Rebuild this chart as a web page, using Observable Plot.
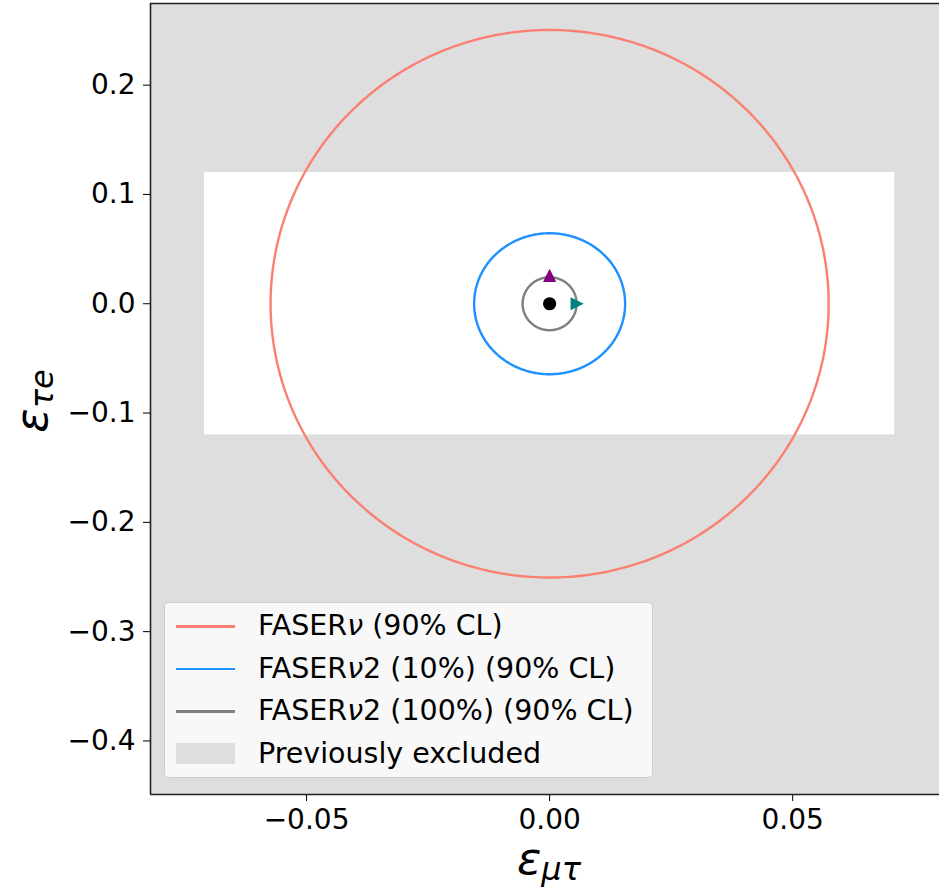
<!DOCTYPE html>
<html>
<head>
<meta charset="utf-8">
<script src="https://cdn.jsdelivr.net/npm/d3@7"></script>
<script src="https://cdn.jsdelivr.net/npm/@observablehq/plot@0.6"></script>
<style>
  html, body { margin: 0; padding: 0; background: white; }
  #wrap { position: relative; width: 939px; height: 888px; overflow: hidden; }
  #legend {
    position: absolute; left: 164px; top: 602px; width: 489px; height: 176px;
    background: #f8f8f8; border: 1px solid #cfcfcf; border-radius: 5px;
    font-family: "DejaVu Sans", sans-serif; font-size: 28.5px; color: #000;
    box-sizing: border-box;
  }
  .row { position: absolute; left: 0; height: 40px; }
  .sw { position: absolute; left: 11px; width: 59px; }
  .lbl { position: absolute; left: 93px; white-space: nowrap; line-height: 40px; }
  .lbl i { font-style: italic; }
</style>
</head>
<body>
<div id="wrap"></div>
<script>
// ---- data ----
const xDomain = [-0.0821, 0.0802];
const yDomain = [-0.449, 0.2747];
const xTicks = [-0.05, 0.0, 0.05];
const yTicks = [-0.4, -0.3, -0.2, -0.1, 0.0, 0.1, 0.2];

// allowed (white) region; outside it is "Previously excluded"
const allowedX = [-0.071, 0.071];
const allowedY = [-0.12, 0.12];

// 90% CL contours (ellipses centred at origin)
const contourNames = ["FASERν (90% CL)", "FASERν2 (10%) (90% CL)", "FASERν2 (100%) (90% CL)"];
const contourColors = ["#fa8072", "#1e90ff", "#808080"];
const contourRx = [0.0574, 0.01553, 0.00556];
const contourRy = [0.2505, 0.0645, 0.0242];
const contourCx = [0, 0, 0];
const contourCy = [0, 0, 0];

// markers
const markerX = [0.0, 0.0, 0.00566];
const markerY = [0.0, 0.026, 0.0];
const markerColors = ["#000000", "#800080", "#008080"];
const markerShapes = ["circle", "triUp", "triRight"];

const excludedColor = "#dedede";
const legendLabel = "Previously excluded";

// ---- build ----
const triUp = {draw(ctx, size) { const h = Math.sqrt(size / Math.PI); ctx.moveTo(0, -h); ctx.lineTo(h, h); ctx.lineTo(-h, h); ctx.closePath(); }};
const triRight = {draw(ctx, size) { const h = Math.sqrt(size / Math.PI); ctx.moveTo(h, 0); ctx.lineTo(-h, -h); ctx.lineTo(-h, h); ctx.closePath(); }};
const symbolMap = {circle: "circle", triUp, triRight};

const ellipsePts = [];
contourNames.forEach((name, i) => {
  const n = 360;
  for (let k = 0; k <= n; k++) {
    const t = 2 * Math.PI * k / n;
    ellipsePts.push({name, x: contourCx[i] + contourRx[i] * Math.cos(t), y: contourCy[i] + contourRy[i] * Math.sin(t)});
  }
});

const markers = markerX.map((x, i) => ({x, y: markerY[i], c: markerColors[i], s: markerShapes[i]}));

const marks = [
  Plot.rect([{x1: xDomain[0], x2: xDomain[1], y1: yDomain[0], y2: yDomain[1]}], {x1: "x1", x2: "x2", y1: "y1", y2: "y2", fill: excludedColor}),
  Plot.rect([{x1: allowedX[0], x2: allowedX[1], y1: allowedY[0], y2: allowedY[1]}], {x1: "x1", x2: "x2", y1: "y1", y2: "y2", fill: "white"}),
];
contourNames.forEach((name, i) => {
  marks.push(Plot.line(ellipsePts.filter(d => d.name === name), {x: "x", y: "y", stroke: contourColors[i], strokeWidth: 2.4}));
});
markers.forEach(m => {
  marks.push(Plot.dot([m], {x: "x", y: "y", fill: m.c, stroke: "none", r: 6.6, symbol: symbolMap[m.s]}));
});
// spines (left, top, bottom; right is off-canvas)
marks.push(Plot.ruleX([xDomain[0]], {y1: yDomain[0], y2: yDomain[1], stroke: "#222", strokeWidth: 1.6}));
marks.push(Plot.ruleY(yDomain, {x1: xDomain[0], x2: xDomain[1], stroke: "#222", strokeWidth: 1.6}));

const chart = Plot.plot({
  width: 939,
  height: 888,
  marginLeft: 150,
  marginRight: 0,
  marginTop: 3,
  marginBottom: 94,
  style: {fontFamily: "DejaVu Sans, sans-serif", fontSize: "28px", background: "white", color: "#000"},
  x: {domain: xDomain, ticks: xTicks, tickFormat: d3.format(".2f"), tickSize: 7, tickPadding: 8, label: null},
  y: {domain: yDomain, ticks: yTicks, tickFormat: d3.format(".1f"), tickSize: 7, tickPadding: 8, label: null},
  marks
});

const wrap = document.getElementById("wrap");
wrap.appendChild(chart);

// axis labels
const svg = d3.select(chart);
const xl = svg.append("text")
  .attr("x", 549).attr("y", 874)
  .attr("text-anchor", "middle")
  .attr("font-family", "DejaVu Sans, sans-serif")
  .attr("font-style", "italic")
  .attr("font-size", 45)
  .attr("fill", "#000");
xl.append("tspan").text("ε");
xl.append("tspan").attr("font-size", 32).attr("dy", 6).text("μτ");

const yl = svg.append("text")
  .attr("transform", "translate(47,401) rotate(-90)")
  .attr("text-anchor", "middle")
  .attr("font-family", "DejaVu Sans, sans-serif")
  .attr("font-style", "italic")
  .attr("font-size", 45)
  .attr("fill", "#000");
yl.append("tspan").text("ε");
yl.append("tspan").attr("font-size", 32).attr("dy", 6).text("τe");

// legend
const legend = document.createElement("div");
legend.id = "legend";
const rows = contourNames.map((n, i) => ({label: n, color: contourColors[i], kind: "line"}));
rows.push({label: legendLabel, color: excludedColor, kind: "patch"});
rows.forEach((r, i) => {
  const row = document.createElement("div");
  row.className = "row";
  row.style.top = (3 + i * 42.5) + "px";
  const sw = document.createElement("div");
  sw.className = "sw";
  if (r.kind === "line") { sw.style.height = "2.6px"; sw.style.top = "19px"; }
  else { sw.style.height = "21px"; sw.style.top = "9px"; }
  sw.style.background = r.color;
  const lb = document.createElement("div");
  lb.className = "lbl";
  const parts = r.label.split("ν");
  parts.forEach((p, k) => {
    lb.appendChild(document.createTextNode(p));
    if (k < parts.length - 1) { const it = document.createElement("i"); it.textContent = "ν"; lb.appendChild(it); }
  });
  row.appendChild(sw); row.appendChild(lb);
  legend.appendChild(row);
});
wrap.appendChild(legend);
</script>
</body>
</html>
